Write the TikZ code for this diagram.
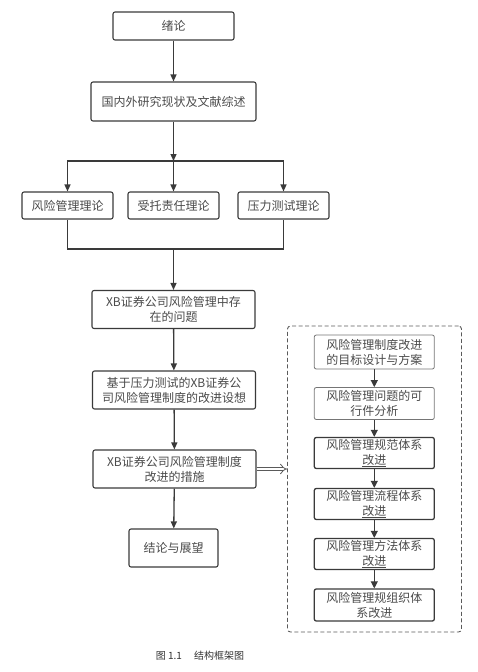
\documentclass[tikz,border=0pt]{standalone}
\usepackage{fontspec}
\setmainfont{Noto Sans CJK SC}
\usetikzlibrary{arrows.meta}
\definecolor{linegray}{HTML}{3A3A3A}
\definecolor{textgray}{HTML}{4A4A4A}
\definecolor{framegray}{HTML}{5A5A5A}

\begin{document}
\begin{tikzpicture}[x=1pt,y=-1pt,
    box/.style={draw=linegray, line width=1.1pt, rounded corners=2pt, align=center,
      text=textgray, font=\fontsize{12}{15}\selectfont, inner sep=0pt},
    subbox/.style={box, draw=linegray!70, line width=0.8pt, minimum width=120pt},
    subboxdark/.style={box, line width=1.3pt, minimum width=120pt},
    flow/.style={draw=linegray, line width=1.3pt, -{Triangle[length=7pt,width=6pt]}},
    link/.style={draw=linegray, line width=1.1pt},
    shortflow/.style={draw=linegray, line width=1.1pt, -{Triangle[length=7pt,width=7pt]}}]
    \useasboundingbox (0,0) rectangle (477,672);
    % main column
    \node[box, minimum width=121pt, minimum height=28pt] (intro) at (173.5,26) {绪论};
    \node[box, minimum width=165pt, minimum height=39pt] (review) at (173.5,101.5) {国内外研究现状及文献综述};
    \node[box, minimum width=91pt, minimum height=27pt] (risk) at (67.5,205.5) {风险管理理论};
    \node[box, minimum width=91pt, minimum height=27pt] (trust) at (173.5,205.5) {受托责任理论};
    \node[box, minimum width=91pt, minimum height=27pt] (stress) at (283.5,205.5) {压力测试理论};
    \node[box, minimum width=163pt, minimum height=38pt] (problem) at (173.5,309.5) {XB证券公司风险管理中存\\在的问题};
    \node[box, minimum width=163pt, minimum height=38pt] (idea) at (174,390) {基于压力测试的XB证券公\\司风险管理制度的改进设想};
    \node[box, minimum width=163pt, minimum height=38pt] (measure) at (174.5,469) {XB证券公司风险管理制度\\改进的措施};
    \node[box, minimum width=89pt, minimum height=38pt] (outlook) at (173.5,548) {结论与展望};
    \coordinate (split) at (173.5,161);
    \coordinate (merge) at (173.5,249);
    \draw[flow] (intro) -- (review);
    \draw[flow] (review) -- (split);
    \draw[flow] (split) -| (risk.north);
    \draw[flow] (split) -- (trust);
    \draw[flow] (split) -| (stress.north);
    \draw[link] (risk.south) |- (merge) -| (stress.south);
    \draw[flow] (merge) -- (problem);
    \draw[flow] (problem) -- (idea);
    \draw[flow] (idea) -- (measure);
    \draw[flow] (measure) -- (outlook);
    % dashed frame with the measures
    \node[draw=framegray, line width=0.9pt, dash pattern=on 4pt off 2.5pt, rounded corners=3pt,
      minimum width=174pt, minimum height=306pt, inner sep=0pt] (plan) at (374.5,479) {};
    \node[subbox, minimum height=34pt] (goal) at (374.3,352) {风险管理制度改进\\的目标设计与方案};
    \node[subbox, minimum height=32pt] (feasible) at (374.3,403.5) {风险管理问题的可\\行件分析};
    \node[subboxdark, minimum height=31pt] (norm) at (374.3,453) {风险管理规范体系\\\underline{改进}};
    \node[subboxdark, minimum height=31pt] (process) at (374.3,504) {风险管理流程体系\\\underline{改进}};
    \node[subboxdark, minimum height=31pt] (method) at (374.3,554) {风险管理方法体系\\\underline{改进}};
    \node[subboxdark, minimum height=32pt] (organ) at (374.3,605) {风险管理规组织体\\系改进};
    \draw[shortflow] (goal) -- (feasible);
    \draw[shortflow] (feasible) -- (norm);
    \draw[shortflow] (norm) -- (process);
    \draw[shortflow] (process) -- (method);
    \draw[shortflow] (method) -- (organ);
    \draw[draw=framegray, line width=0.8pt, double=white, double distance=2.8pt,
      -{Implies[scale=1.8]}]
      (measure.east) -- (measure.east -| plan.west);
    % caption
    \node[font=\fontsize{10}{12}\selectfont, text=black!80] (caption) at (200,656) {图 1.1\quad\ 结构框架图};
\end{tikzpicture}
\end{document}
